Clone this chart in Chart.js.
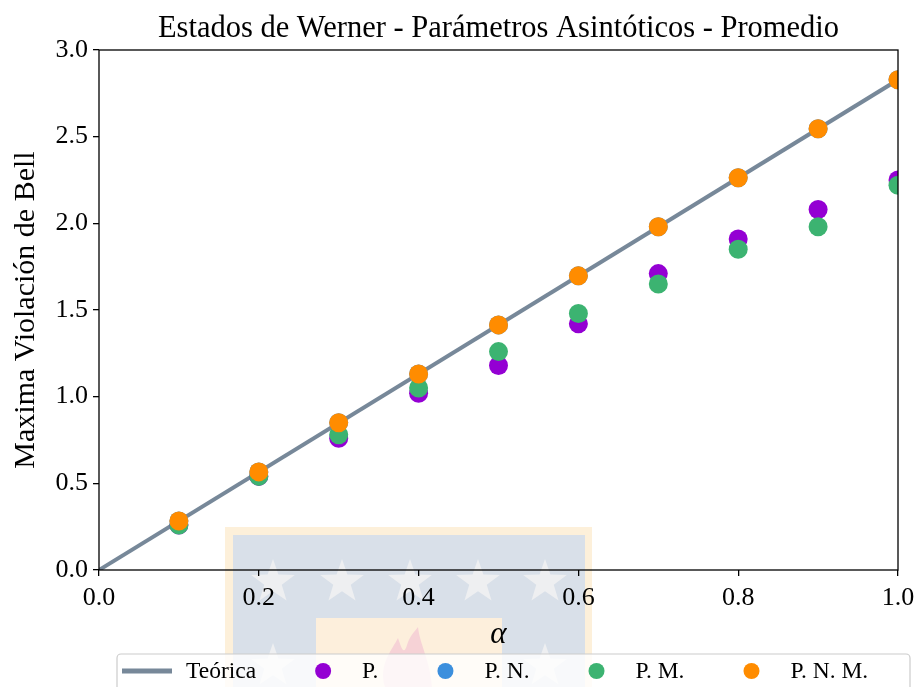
<!DOCTYPE html>
<html>
<head>
<meta charset="utf-8">
<script src="https://cdn.jsdelivr.net/npm/chart.js@4.4.1/dist/chart.umd.min.js"></script>
<style>
  html, body { margin: 0; padding: 0; background: #fff; }
  #wrap { width: 917px; height: 687px; }
</style>
</head>
<body>
<div id="wrap"><canvas id="werner"></canvas></div>
<script>
// alpha values and averaged Bell violation for each method
var alphas = [0.1, 0.2, 0.3, 0.4, 0.5, 0.6, 0.7, 0.8, 0.9, 1.0]
var teoricaX = [0, 1]
var teoricaY = [0, 2.828]
var violP   = [0.26, 0.54, 0.76, 1.02, 1.18, 1.42, 1.71, 1.91, 2.08, 2.25]
var violPN  = [0.283, 0.566, 0.849, 1.131, 1.414, 1.697, 1.980, 2.263, 2.546, 2.828]
var violPM  = [0.26, 0.54, 0.78, 1.05, 1.26, 1.48, 1.65, 1.85, 1.98, 2.22]
var violPNM = [0.283, 0.566, 0.849, 1.131, 1.414, 1.697, 1.980, 2.263, 2.546, 2.828]
var xTicks = [0, 0.2, 0.4, 0.6, 0.8, 1.0]
var yTicks = [0, 0.5, 1.0, 1.5, 2.0, 2.5, 3.0]

var serif = "'Liberation Serif', 'Times New Roman', serif"

function pts(xs, ys) {
    return xs.map(function (x, i) { return {x: x, y: ys[i]} })
}

function puntos(label, ys, color, order) {
    return {
        label: label,
        data: pts(alphas, ys),
        backgroundColor: color,
        borderColor: color,
        pointRadius: 9.5,
        pointBorderWidth: 0,
        showLine: false,
        order: order
    }
}

function star(ctx, cx, cy, R) {
    var r = R * 0.4
    ctx.beginPath()
    for (var i = 0; i < 10; i++) {
        var a = -Math.PI / 2 + i * Math.PI / 5
        var rr = i % 2 ? r : R
        ctx.lineTo(cx + rr * Math.cos(a), cy + rr * Math.sin(a))
    }
    ctx.closePath()
    ctx.fill()
}

// pale university logo behind the lower part of the figure
var fondo = {
    id: 'fondo',
    beforeDraw: function (chart) {
        var ctx = chart.ctx
        ctx.save()
        ctx.fillStyle = '#ffffff'
        ctx.fillRect(0, 0, chart.width, chart.height)
        ctx.fillStyle = '#fdf0da'
        ctx.fillRect(225, 527, 367, 160)
        ctx.fillStyle = '#d9e0e9'
        ctx.fillRect(233, 535, 352, 152)
        ctx.fillStyle = '#fdefdc'
        ctx.fillRect(316, 618, 186, 69)
        ctx.fillStyle = '#eeeff1'
        ;[273, 342, 410, 478, 545].forEach(function (x) { star(ctx, x, 582, 23) })
        ;[273, 545].forEach(function (x) { star(ctx, x, 666, 23) })
        ctx.fillStyle = '#f6d2d6'
        ctx.beginPath()
        ctx.moveTo(385, 687)
        ctx.bezierCurveTo(378, 665, 392, 650, 398, 638)
        ctx.bezierCurveTo(402, 650, 404, 655, 407, 645)
        ctx.bezierCurveTo(410, 635, 416, 630, 418, 627)
        ctx.bezierCurveTo(420, 645, 430, 660, 432, 687)
        ctx.closePath()
        ctx.fill()
        ctx.restore()
    }
}

// axes box, title and legend in the matplotlib style
var marco = {
    id: 'marco',
    afterDraw: function (chart) {
        var ctx = chart.ctx
        var a = chart.chartArea
        ctx.save()
        ctx.strokeStyle = '#000'
        ctx.lineWidth = 1.3
        ctx.strokeRect(a.left, a.top, a.right - a.left, a.bottom - a.top)

        ctx.fillStyle = '#000'
        ctx.font = '30.5px ' + serif
        ctx.textAlign = 'center'
        ctx.textBaseline = 'alphabetic'
        ctx.fillText('Estados de Werner - Parámetros Asintóticos - Promedio', (a.left + a.right) / 2, 37)

        // legend
        var lx = 117, ly = 654, lw = 793, lh = 50
        ctx.beginPath()
        ctx.roundRect(lx, ly, lw, lh, 4)
        ctx.fillStyle = 'rgba(255,255,255,0.8)'
        ctx.fill()
        ctx.strokeStyle = '#cccccc'
        ctx.lineWidth = 1.2
        ctx.stroke()

        ctx.font = '23.5px ' + serif
        ctx.textAlign = 'left'
        ctx.textBaseline = 'middle'
        var x = 122, y = 671
        chart.data.datasets.forEach(function (ds) {
            if (ds.showLine) {
                ctx.strokeStyle = ds.borderColor
                ctx.lineWidth = 5
                ctx.beginPath()
                ctx.moveTo(x, y)
                ctx.lineTo(x + 50, y)
                ctx.stroke()
            } else {
                ctx.fillStyle = ds.backgroundColor
                ctx.beginPath()
                ctx.arc(x + 25, y, 8, 0, Math.PI * 2)
                ctx.fill()
            }
            ctx.fillStyle = '#000'
            ctx.fillText(ds.label, x + 64, y + 1)
            x += 64 + ctx.measureText(ds.label).width + 42
        })
        ctx.restore()
    }
}

var ctx = document.getElementById('werner')
var grafico = new Chart(ctx,
    {
        type: 'scatter',
        data:
            {
                datasets:
                    [{
                        label: 'Teórica',
                        data: pts(teoricaX, teoricaY),
                        borderColor: '#778899',
                        backgroundColor: '#778899',
                        borderWidth: 4,
                        pointRadius: 0,
                        showLine: true,
                        order: 5
                    },
                    puntos('P.', violP, '#9400d3', 4),
                    puntos('P. N.', violPN, '#3c8fdd', 3),
                    puntos('P. M.', violPM, '#3cb371', 2),
                    puntos('P. N. M.', violPNM, '#ff8c00', 1)]
            },
        options:
            {
                responsive: true,
                maintainAspectRatio: false,
                animation: false,
                layout: { padding: { top: 50, right: 19, left: 0, bottom: 34 } },
                plugins: { legend: { display: false }, tooltip: { enabled: false } },
                scales:
                    {
                        x:
                            {
                                type: 'linear',
                                min: 0,
                                max: 1,
                                afterFit: function (s) { s.height = 83; s.paddingLeft = 0; s.paddingRight = 0 },
                                afterBuildTicks: function (s) { s.ticks = xTicks.map(function (v) { return {value: v} }) },
                                grid: { drawOnChartArea: false, drawTicks: true, tickLength: 6, color: '#000', lineWidth: 1.3 },
                                border: { display: false },
                                ticks: { color: '#000', font: { family: serif, size: 26 }, padding: 7, maxRotation: 0,
                                         callback: function (v) { return v.toFixed(1) } },
                                title: { display: true, text: 'α', color: '#000', padding: { bottom: 0 },
                                         font: { family: serif, size: 31, style: 'italic' } }
                            },
                        y:
                            {
                                type: 'linear',
                                min: 0,
                                max: 3,
                                afterFit: function (s) { s.width = 99; s.paddingTop = 0; s.paddingBottom = 0 },
                                afterBuildTicks: function (s) { s.ticks = yTicks.map(function (v) { return {value: v} }) },
                                grid: { drawOnChartArea: false, drawTicks: true, tickLength: 6, color: '#000', lineWidth: 1.3 },
                                border: { display: false },
                                ticks: { color: '#000', font: { family: serif, size: 26 }, padding: 5,
                                         callback: function (v) { return v.toFixed(1) } },
                                title: { display: true, text: 'Maxima Violación de Bell', color: '#000', padding: { top: 8 },
                                         font: { family: serif, size: 30 } }
                            }
                    }
            },
        plugins: [fondo, marco]
    })
</script>
</body>
</html>
